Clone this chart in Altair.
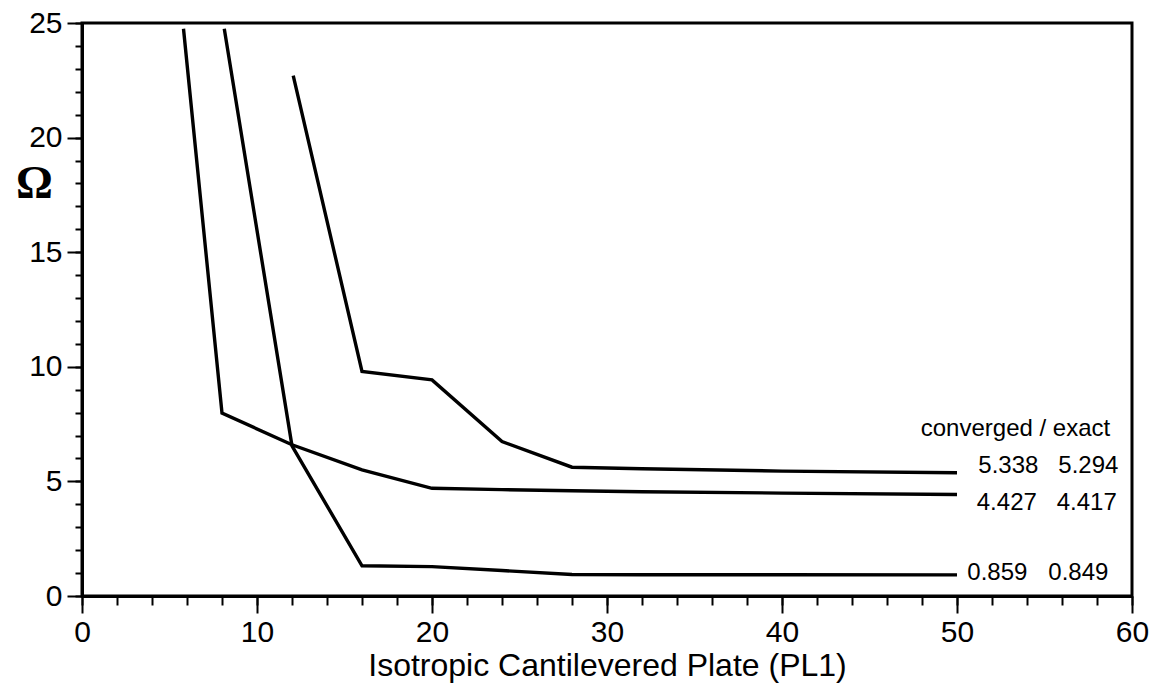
import altair as alt
import pandas as pd

# ---- values ----
x_major_ticks = [0, 10, 20, 30, 40, 50, 60]
x_minor_ticks = list(range(0, 61, 2))
y_major_ticks = [0, 5, 10, 15, 20, 25]
y_minor_ticks = list(range(0, 26, 1))

curve_a_x = [5.8, 8, 12, 16, 20, 24, 28, 32, 40, 50]
curve_a_y = [24.75, 7.98, 6.6, 5.5, 4.70, 4.64, 4.59, 4.55, 4.49, 4.43]

curve_b_x = [8.13, 12, 16, 20, 24, 28, 32, 40, 50]
curve_b_y = [24.75, 6.55, 1.32, 1.28, 1.11, 0.94, 0.93, 0.93, 0.92]

curve_c_x = [12.07, 16, 20, 24, 28, 32, 40, 50]
curve_c_y = [22.7, 9.8, 9.43, 6.74, 5.62, 5.55, 5.45, 5.38]

note_text = ["converged / exact", "5.338", "5.294", "4.427", "4.417", "0.859", "0.849"]
note_x = [47.93, 51.22, 55.79, 51.13, 55.70, 50.59, 55.22]
note_y = [6.99, 5.36, 5.36, 3.76, 3.76, 0.70, 0.70]

# ---- tables ----
rows = []
for name, xs, ys in [("a", curve_a_x, curve_a_y), ("b", curve_b_x, curve_b_y), ("c", curve_c_x, curve_c_y)]:
    for xv, yv in zip(xs, ys):
        rows.append({"series": name, "n": xv, "omega": yv})
lines_df = pd.DataFrame(rows)
notes_df = pd.DataFrame({"text": note_text, "n": note_x, "omega": note_y})

FONT = "Liberation Sans"
xscale = alt.Scale(domain=[0, 60], nice=False, zero=False)
yscale = alt.Scale(domain=[0, 25], nice=False, zero=False)

major_x_axis = alt.Axis(
    orient="bottom", values=x_major_ticks, format="d", grid=False,
    domainColor="black", domainWidth=3, tickColor="black", tickWidth=2, tickSize=17,
    labelColor="black", labelFont=FONT, labelFontSize=30, labelPadding=4,
    labelFlush=False, labelOverlap=False,
    title="Isotropic Cantilevered Plate (PL1)", titleFont=FONT, titleFontSize=32,
    titleFontWeight="normal", titleColor="black", titlePadding=3,
)
major_y_axis = alt.Axis(
    orient="left", values=y_major_ticks, format="d", grid=False,
    domainColor="black", domainWidth=3, tickColor="black", tickWidth=2, tickSize=15,
    labelColor="black", labelFont=FONT, labelFontSize=30, labelPadding=5,
    labelFlush=False, labelOverlap=False,
    title="Ω", titleFont="Liberation Serif", titleFontSize=46, titleFontWeight="bold",
    titleColor="black", titleAngle=0, titleAlign="center", titleBaseline="middle",
    titleX=-48, titleY=160,
)
minor_x_axis = alt.Axis(
    orient="bottom", values=x_minor_ticks, grid=False, domain=False, labels=False,
    tickColor="black", tickWidth=2, tickSize=9, title=None,
)
minor_y_axis = alt.Axis(
    orient="left", values=y_minor_ticks, grid=False, domain=False, labels=False,
    tickColor="black", tickWidth=2, tickSize=7, title=None,
)

lines = alt.Chart(lines_df).mark_line(color="black", strokeWidth=3.4, strokeJoin="miter").encode(
    x=alt.X("n:Q", scale=xscale, axis=major_x_axis),
    y=alt.Y("omega:Q", scale=yscale, axis=major_y_axis),
    detail="series:N",
)

notes = alt.Chart(notes_df).mark_text(
    align="left", baseline="alphabetic", font=FONT, fontSize=24, color="black"
).encode(
    x=alt.X("n:Q", scale=xscale, axis=minor_x_axis),
    y=alt.Y("omega:Q", scale=yscale, axis=minor_y_axis),
    text="text:N",
)

chart = (
    alt.layer(lines, notes)
    .resolve_axis(x="independent", y="independent")
    .properties(
        width=1050, height=573, autosize=alt.AutoSizeParams(type="none"),
        padding={"left": 82, "top": 23, "right": 28, "bottom": 100},
        background="white",
    )
    .configure_view(stroke="black", strokeWidth=3)
)

chart.save("out.html", embed_options={"renderer": "svg", "actions": False})
